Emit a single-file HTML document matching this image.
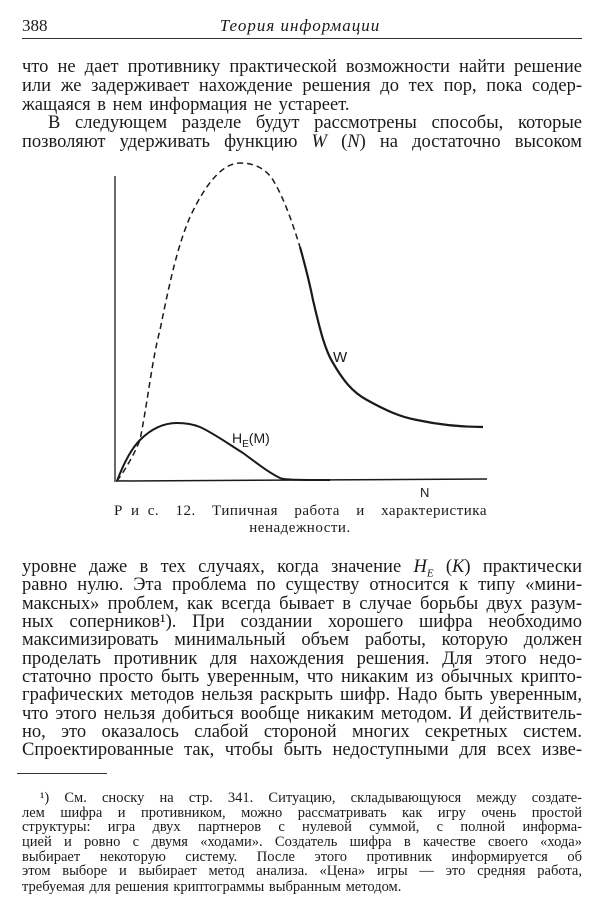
<!DOCTYPE html>
<html><head><meta charset="utf-8"><style>
body{margin:0;background:#fff;}
#p{position:relative;width:600px;height:914px;background:#fff;color:#1a1a1a;font-family:"Liberation Serif",serif;overflow:hidden}
.l{position:absolute;left:22px;width:560px;font-size:18.5px;line-height:18px;white-space:nowrap;text-align:justify;text-align-last:justify;}
.i{left:48px;width:534px}
.f{font-size:14.5px;line-height:14px;}
.fi{left:40px;width:542px}
.c{position:absolute;font-size:15px;}
</style></head><body><div id="p">
<div style="position:absolute;left:22px;top:16px;font-size:17px">388</div>
<div style="position:absolute;left:0;width:600px;text-align:center;top:16px;font-size:17px;font-style:italic;letter-spacing:1px">Теория информации</div>
<div style="position:absolute;left:22px;top:38px;width:560px;border-top:1px solid #333"></div>
<div class="l" style="top:58px">что не дает противнику практической возможности найти решение</div>
<div class="l" style="top:77px">или же задерживает нахождение решения до тех пор, пока содер-</div>
<div class="l" style="top:96px;text-align-last:left;word-spacing:2px">жащаяся в нем информация не устареет.</div>
<div class="l i" style="top:114px">В следующем разделе будут рассмотрены способы, которые</div>
<div class="l" style="top:133px">позволяют удерживать функцию <i>W</i> (<i>N</i>) на достаточно высоком</div>
<svg style="position:absolute;left:0;top:0" width="600" height="914">
<g fill="none" stroke="#1a1a1a">
<line x1="115" y1="176" x2="115" y2="482" stroke-width="1.3"/>
<line x1="116" y1="481" x2="487" y2="479" stroke-width="1.5"/>
<path d="M117,481 C125,470 134,455 140,440 C148,400 152,360 160,330 C170,280 178,245 190,217 C205,185 222,163 240,163 C258,163 268,172 273,180 C285,200 293,225 300,247" stroke-width="1.5" stroke-dasharray="6,4"/>
<path d="M300,247 C305,265 310,285 313,300 C320,330 325,350 333,363 C343,380 352,392 367,400 C385,410 400,417 417,420 C440,425 460,427 483,427" stroke-width="2.2"/>
<path d="M117,481 C123,465 130,450 140,440 C152,428 165,423 177,423 C188,423 195,425 200,427 C215,434 230,445 243,453 C258,464 268,472 280,478 C285,480 300,480 330,480" stroke-width="2"/>
</g>
<text x="333" y="362" font-family="Liberation Sans,sans-serif" font-size="15" fill="#1a1a1a">W</text>
<text x="232" y="443" font-family="Liberation Sans,sans-serif" font-size="14" fill="#1a1a1a">H<tspan font-size="10" dy="4">E</tspan><tspan dy="-4">(M)</tspan></text>
<text x="420" y="497" font-family="Liberation Sans,sans-serif" font-size="13" fill="#1a1a1a">N</text>
</svg>
<div class="c" style="left:114px;top:503px;width:373px;text-align:justify;text-align-last:justify;white-space:nowrap;letter-spacing:0.5px">Р и с.&nbsp; 12.&nbsp; Типичная&nbsp; работа&nbsp; и&nbsp; характеристика</div>
<div class="c" style="left:0;width:600px;text-align:center;top:520px;letter-spacing:0.5px">ненадежности.</div>
<div class="l" style="top:558px">уровне даже в тех случаях, когда значение <i>H<sub style="font-size:11px">E</sub></i> (<i>K</i>) практически</div>
<div class="l" style="top:576px">равно нулю. Эта проблема по существу относится к типу «мини-</div>
<div class="l" style="top:595px">максных» проблем, как всегда бывает в случае борьбы двух разум-</div>
<div class="l" style="top:613px">ных соперников¹). При создании хорошего шифра необходимо</div>
<div class="l" style="top:631px">максимизировать минимальный объем работы, которую должен</div>
<div class="l" style="top:650px">проделать противник для нахождения решения. Для этого недо-</div>
<div class="l" style="top:668px">статочно просто быть уверенным, что никаким из обычных крипто-</div>
<div class="l" style="top:686px">графических методов нельзя раскрыть шифр. Надо быть уверенным,</div>
<div class="l" style="top:705px">что этого нельзя добиться вообще никаким методом. И действитель-</div>
<div class="l" style="top:723px">но, это оказалось слабой стороной многих секретных систем.</div>
<div class="l" style="top:741px">Спроектированные так, чтобы быть недоступными для всех изве-</div>
<div style="position:absolute;left:17px;top:773px;width:90px;border-top:1px solid #333"></div>
<div class="l f fi" style="top:791px">¹) См. сноску на стр. 341. Ситуацию, складывающуюся между создате-</div>
<div class="l f" style="top:806px">лем шифра и противником, можно рассматривать как игру очень простой</div>
<div class="l f" style="top:820px">структуры: игра двух партнеров с нулевой суммой, с полной информа-</div>
<div class="l f" style="top:835px">цией и ровно с двумя «ходами». Создатель шифра в качестве своего «хода»</div>
<div class="l f" style="top:850px">выбирает некоторую систему. После этого противник информируется об</div>
<div class="l f" style="top:864px">этом выборе и выбирает метод анализа. «Цена» игры — это средняя работа,</div>
<div class="l f" style="top:880px;text-align-last:left;word-spacing:1px">требуемая для решения криптограммы выбранным методом.</div>
</div></body></html>
